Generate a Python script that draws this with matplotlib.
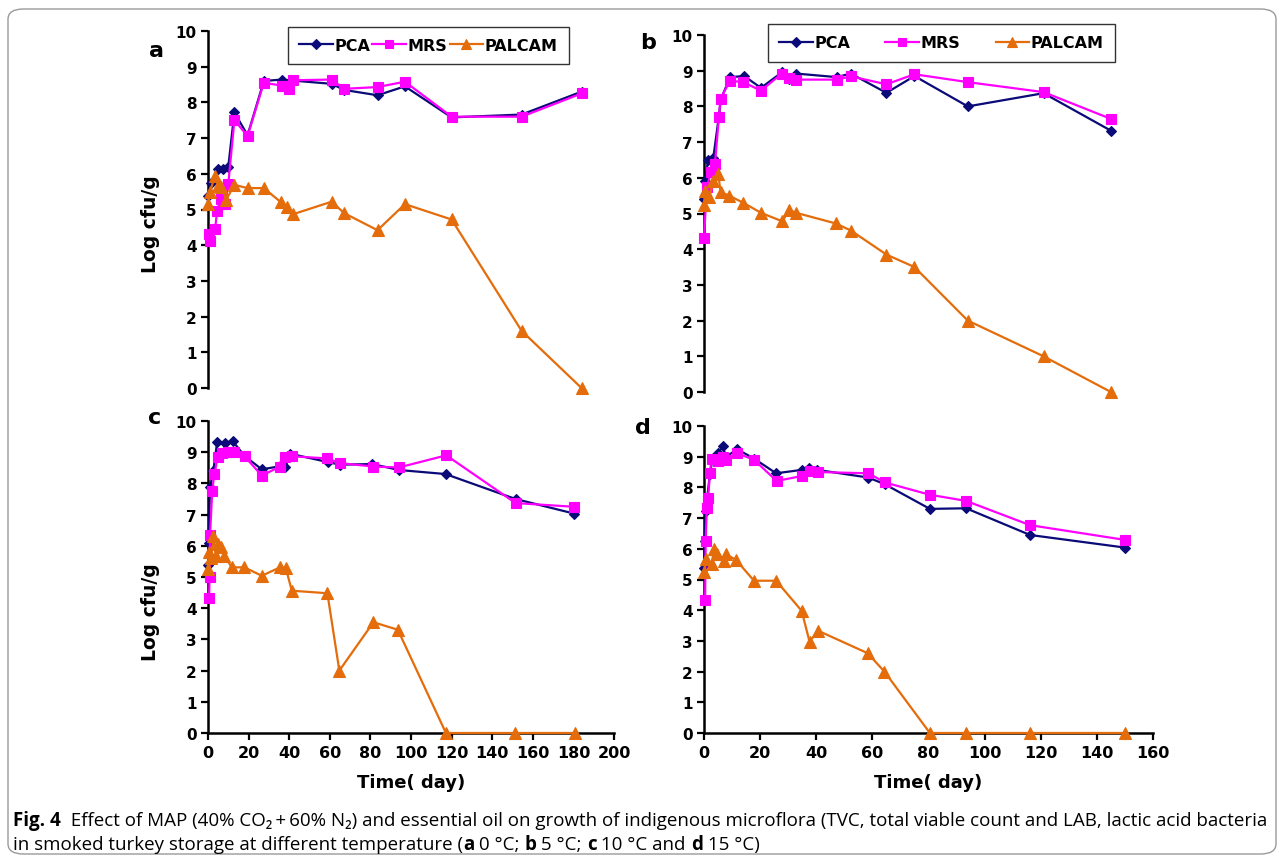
import matplotlib
matplotlib.use("Agg")
import matplotlib.pyplot as plt
from matplotlib import font_manager
from matplotlib.patches import FancyBboxPatch

# ---------------- data ----------------
series_names = ["PCA", "MRS", "PALCAM"]
panel_labels = ["a", "b", "c", "d"]

a_pca_x = [0, 1.5, 5, 7.5, 10, 13, 19.5, 27.5, 36.5, 42, 61, 67, 83.5, 97, 120, 154.5, 184]
a_pca_y = [5.38, 5.75, 6.13, 6.13, 6.2, 7.72, 7.08, 8.6, 8.64, 8.61, 8.52, 8.35, 8.2, 8.45, 7.58, 7.66, 8.3]
a_mrs_x = [0.5, 1, 3.5, 4.5, 6.5, 8.5, 10, 13, 19.5, 27.5, 36.5, 40, 42, 61, 67, 83.5, 97, 120, 154.5, 184]
a_mrs_y = [4.3, 4.13, 4.45, 4.97, 5.3, 5.15, 5.72, 7.5, 7.06, 8.55, 8.47, 8.37, 8.62, 8.64, 8.38, 8.43, 8.58, 7.6, 7.6, 8.25]
a_pal_x = [0, 1, 3.5, 5, 6.5, 9, 13, 19.5, 27.5, 36, 39, 42, 61, 67, 83.5, 97, 120, 154.5, 184]
a_pal_y = [5.15, 5.5, 5.95, 5.67, 5.64, 5.28, 5.69, 5.6, 5.6, 5.2, 5.08, 4.87, 5.22, 4.9, 4.42, 5.15, 4.72, 1.6, 0.0]

b_pca_x = [0, 0.3, 1.5, 3.3, 5.3, 6, 9.3, 14.3, 20.3, 27.7, 30.4, 32.8, 47.3, 52.3, 65, 75, 94, 121, 145]
b_pca_y = [5.4, 5.92, 6.5, 6.55, 7.72, 8.2, 8.82, 8.85, 8.52, 8.95, 8.76, 8.92, 8.82, 8.92, 8.38, 8.85, 8.0, 8.37, 7.32]
b_mrs_x = [0, 1, 2.4, 3.9, 5.3, 5.9, 9.3, 14, 20.3, 27.7, 30.4, 32.8, 47.3, 52.3, 65, 75, 94, 121, 145]
b_mrs_y = [4.3, 5.73, 6.15, 6.39, 7.69, 8.22, 8.72, 8.68, 8.44, 8.92, 8.8, 8.75, 8.75, 8.84, 8.62, 8.9, 8.68, 8.4, 7.65]
b_pal_x = [0, 0.4, 1.9, 3.3, 5.1, 5.9, 9, 14, 20.3, 27.9, 30.4, 32.8, 47, 52.4, 65, 75, 94, 121, 145]
b_pal_y = [5.25, 5.64, 5.45, 5.92, 6.1, 5.6, 5.5, 5.3, 5.02, 4.78, 5.1, 5.02, 4.72, 4.52, 3.85, 3.5, 2.0, 1.0, 0.0]

c_pca_x = [0, 0.3, 1, 2.6, 4.5, 8.4, 12.2, 18, 26.5, 35.5, 38, 40.5, 59.3, 65, 81, 94, 117, 151.5, 180.5]
c_pca_y = [5.38, 6.1, 7.87, 8.4, 9.32, 9.3, 9.35, 8.88, 8.45, 8.55, 8.52, 8.95, 8.68, 8.6, 8.62, 8.43, 8.3, 7.5, 7.03]
c_mrs_x = [0.5, 0.8, 1, 2.1, 3.1, 4.8, 6.7, 10, 13, 18, 26.5, 35.5, 38, 41.3, 58.8, 65, 81.5, 94, 117.4, 151.5, 180.5]
c_mrs_y = [4.32, 4.99, 6.35, 7.77, 8.3, 8.84, 8.97, 9.0, 9.0, 8.87, 8.25, 8.54, 8.84, 8.87, 8.8, 8.65, 8.54, 8.51, 8.9, 7.37, 7.25]
c_pal_x = [0, 0.5, 1.5, 2.6, 3.8, 5, 6.3, 8, 11.7, 17.9, 26.5, 35.5, 38.3, 41.3, 58.8, 64.7, 81.5, 93.5, 117.2, 151, 180.6]
c_pal_y = [5.26, 5.79, 5.6, 6.32, 5.68, 6.06, 5.95, 5.68, 5.31, 5.31, 5.04, 5.31, 5.29, 4.56, 4.48, 2.0, 3.55, 3.31, 0, 0, 0]

d_pca_x = [0, 0.2, 0.6, 2.1, 3.1, 5.1, 6.7, 7.8, 11.9, 17.8, 25.7, 34.8, 37.5, 40.4, 58.6, 64.5, 80.5, 93.4, 116.2, 150]
d_pca_y = [5.39, 6.26, 7.23, 8.43, 8.97, 9.13, 9.35, 9.0, 9.24, 8.94, 8.46, 8.57, 8.64, 8.57, 8.32, 8.1, 7.3, 7.32, 6.45, 6.04]
d_mrs_x = [0.4, 0.6, 1, 1.5, 2.1, 2.7, 5.1, 6.7, 7.8, 11.9, 17.8, 25.9, 34.8, 37.8, 40.7, 58.6, 64.5, 80.5, 93.4, 116.2, 150]
d_mrs_y = [4.34, 6.26, 7.34, 7.67, 8.48, 8.92, 8.86, 9.0, 8.9, 9.11, 8.9, 8.21, 8.37, 8.54, 8.5, 8.46, 8.16, 7.76, 7.56, 6.77, 6.29]
d_pal_x = [0, 0.7, 2.7, 3.6, 4.5, 7.1, 7.8, 11.4, 17.8, 25.7, 34.8, 37.6, 40.7, 58.3, 64.3, 80.5, 93.4, 116, 150]
d_pal_y = [5.23, 5.66, 5.5, 5.99, 5.82, 5.61, 5.82, 5.64, 4.96, 4.96, 3.98, 2.98, 3.33, 2.6, 2.0, 0, 0, 0, 0]

y_ticks = [0, 1, 2, 3, 4, 5, 6, 7, 8, 9, 10]
x_ticks_left = [0, 20, 40, 60, 80, 100, 120, 140, 160, 180, 200]
x_ticks_right = [0, 20, 40, 60, 80, 100, 120, 140, 160]

# ---------------- style ----------------
COL_PCA = "#0a0a78"
COL_MRS = "#ff00ff"
COL_PAL = "#e46c0a"
FONT = "DejaVu Sans"

W, H = 1282, 862
fig = plt.figure(figsize=(W / 100, H / 100), dpi=100)
fig.patch.set_facecolor("white")


def fbox(l, t, r, b):
    return [l / W, 1 - b / H, (r - l) / W, (b - t) / H]


panels = {
    "a": dict(rect=fbox(208, 32, 614, 389), xlim=200, xt=x_ticks_left, xaxis=False,
              leg=(288, 29, 569, 64), ylab=(224,),
              data=[(a_pca_x, a_pca_y), (a_mrs_x, a_mrs_y), (a_pal_x, a_pal_y)]),
    "b": dict(rect=fbox(704, 36, 1153, 393), xlim=160, xt=x_ticks_right, xaxis=False,
              leg=(768, 28, 1115, 60),
              data=[(b_pca_x, b_pca_y), (b_mrs_x, b_mrs_y), (b_pal_x, b_pal_y)]),
    "c": dict(rect=fbox(208, 422, 614, 734), xlim=200, xt=x_ticks_left, xaxis=True,
              ylab=(612,),
              data=[(c_pca_x, c_pca_y), (c_mrs_x, c_mrs_y), (c_pal_x, c_pal_y)]),
    "d": dict(rect=fbox(704, 427, 1153, 734), xlim=160, xt=x_ticks_right, xaxis=True,
              data=[(d_pca_x, d_pca_y), (d_mrs_x, d_mrs_y), (d_pal_x, d_pal_y)]),
}

styles = [
    dict(color=COL_PCA, marker="D", markersize=5.5, lw=1.6),
    dict(color=COL_MRS, marker="s", markersize=7, lw=1.6),
    dict(color=COL_PAL, marker="^", markersize=8, lw=1.6),
]

axes = {}
for key in panel_labels:
    p = panels[key]
    ax = fig.add_axes(p["rect"])
    axes[key] = ax
    handles = []
    for (xs, ys), st, name in zip(p["data"], styles, series_names):
        h, = ax.plot(xs, ys, color=st["color"], marker=st["marker"], markersize=st["markersize"],
                     linewidth=st["lw"], markeredgewidth=0.8, markeredgecolor=st["color"],
                     clip_on=False, label=name, zorder=3)
        handles.append(h)
    ax.set_xlim(0, p["xlim"])
    ax.set_ylim(0, 10)
    ax.set_yticks(y_ticks)
    ax.set_yticklabels([str(v) for v in y_ticks], fontfamily=FONT, fontweight="bold", fontsize=11)
    for s in ["top", "right"]:
        ax.spines[s].set_visible(False)
    ax.spines["left"].set_linewidth(1.8)
    ax.tick_params(axis="y", direction="out", length=5, width=1.6, pad=3)
    if p["xaxis"]:
        ax.spines["bottom"].set_linewidth(1.8)
        ax.set_xticks(p["xt"])
        ax.set_xticklabels([str(v) for v in p["xt"]], fontfamily=FONT, fontweight="bold", fontsize=11.5)
        ax.tick_params(axis="x", direction="out", length=5, width=1.6, pad=4)
        ax.set_xlabel("Time( day)", fontfamily=FONT, fontweight="bold", fontsize=13, labelpad=9)
    else:
        ax.spines["bottom"].set_visible(False)
        ax.set_xticks([])
    ax.patch.set_alpha(0)
    if "ylab" in p:
        ax.set_ylabel("Log cfu/g", fontfamily=FONT, fontweight="bold", fontsize=13.5)
        ybot = 1 - (p["rect"][1])  # unused helper
        top_px = H * (1 - p["rect"][1] - p["rect"][3])
        bot_px = H * (1 - p["rect"][1])
        frac = (bot_px - p["ylab"][0]) / (bot_px - top_px)
        ax.yaxis.set_label_coords((160 - 208) / (p["rect"][2] * W), frac)
    if "leg" in p:
        l, t, r, b = p["leg"]
        leg = ax.legend(handles=handles, ncol=3, loc="center", mode="expand",
                        bbox_to_anchor=(l / W, 1 - b / H, (r - l) / W, (b - t) / H),
                        bbox_transform=fig.transFigure,
                        prop=dict(family=FONT, weight="bold", size=11.5),
                        frameon=True, fancybox=False, edgecolor="black",
                        handlelength=2.1, handletextpad=0.1, columnspacing=0.8,
                        borderpad=0.7, borderaxespad=0, markerscale=0.85)
        leg.get_frame().set_linewidth(1.0)

letter_pos = {"a": (156, 51), "b": (648, 43), "c": (155, 418), "d": (643, 428)}
for key, (px, py) in letter_pos.items():
    fig.text(px / W, 1 - py / H, key, fontfamily=FONT, fontweight="bold", fontsize=16,
             ha="center", va="center")

# ---------------- border ----------------
border = FancyBboxPatch((8 / W, 1 - 855 / H), (1268) / W, (845) / H,
                        boxstyle="round,pad=0,rounding_size=0.012",
                        transform=fig.transFigure, facecolor="none",
                        edgecolor="#9a9a9a", linewidth=1.0)
fig.add_artist(border)

# ---------------- caption ----------------
avail = {f.name for f in font_manager.fontManager.ttflist}
cap_font = "Liberation Sans Narrow" if "Liberation Sans Narrow" in avail else "Open Sans"
cap_fam = [cap_font, "DejaVu Sans"]

renderer = fig.canvas.get_renderer()


def text_width(s, size, weight):
    t1 = fig.text(0, 0, s + "|", fontfamily=cap_fam, fontsize=size, fontweight=weight)
    t2 = fig.text(0, 0, "|", fontfamily=cap_fam, fontsize=size, fontweight=weight)
    w = t1.get_window_extent(renderer).width - t2.get_window_extent(renderer).width
    t1.remove()
    t2.remove()
    return w


line1 = [("Fig. 4", "bold"), ("  Effect of MAP (40% CO\u2082\u2009+\u200960% N\u2082) and essential oil on growth of indigenous microflora (TVC, total viable count and LAB, lactic acid bacteria", "normal")]
line2 = [("in smoked turkey storage at different temperature (", "normal"), ("a", "bold"), (" 0 \u00b0C; ", "normal"),
         ("b", "bold"), (" 5 \u00b0C; ", "normal"), ("c", "bold"), (" 10 \u00b0C and ", "normal"),
         ("d", "bold"), (" 15 \u00b0C)", "normal")]

base = 10.0
w1 = sum(text_width(s, base, wt) for s, wt in line1)
cap_size = base * 1255 / w1
cap_size = min(cap_size, 14)


def draw_runs(x0, ybase, runs):
    x = x0
    for s, wt in runs:
        fig.text(x / W, 1 - ybase / H, s, fontfamily=cap_fam, fontsize=cap_size, fontweight=wt,
                 ha="left", va="baseline")
        x += text_width(s, cap_size, wt)


draw_runs(13, 826, line1)
draw_runs(13, 850, line2)

fig.savefig("out.png", dpi=100, facecolor="white")
